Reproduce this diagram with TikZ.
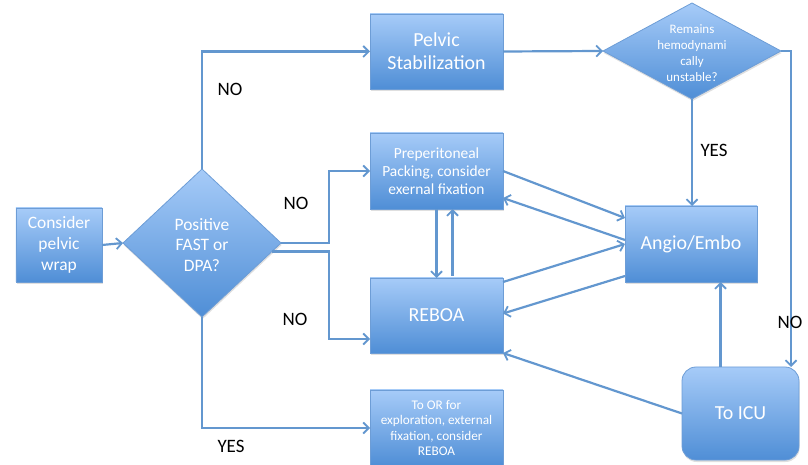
\documentclass[tikz,border=0pt]{standalone}
\usepackage{fontspec}
\setmainfont{Carlito}
\usetikzlibrary{shapes.geometric,arrows.meta,shadows}
\definecolor{topb}{HTML}{A6CBF8}
\definecolor{botb}{HTML}{4F8ED6}
\definecolor{edgeb}{HTML}{6D9DD6}
\definecolor{linkb}{HTML}{6397CF}
\begin{document}
\begin{tikzpicture}[x=1bp,y=-1bp,
  box/.style={draw=edgeb, line width=0.8bp, top color=topb, bottom color=botb,
    text=white, align=center, inner sep=0pt, outer sep=0pt,
    drop shadow={shadow xshift=0.6bp, shadow yshift=-2bp, opacity=0.25}},
  dia/.style={box, diamond},
  wtext/.style={text=white, align=center, inner sep=0pt},
  link/.style={draw=linkb, line width=2.2bp, line join=miter,
    -{Straight Barb[length=5.5bp,width=11bp,line width=1.8bp]}},
  lab/.style={font=\fontsize{19}{21}\selectfont, inner sep=0pt}]
\useasboundingbox (0,0) rectangle (808,465);

% nodes
\node[box, minimum width=86bp, minimum height=74bp,
  font=\fontsize{17.5}{21}\selectfont] (wrap) at (59,245) {Consider\\pelvic\\wrap};
\node[dia, minimum width=158bp, minimum height=148bp] (fast) at (202,243) {};
\node[wtext, font=\fontsize{17.5}{20.5}\selectfont] (fastt) at (202,245) {Positive\\FAST or\\DPA?};
\node[box, minimum width=133bp, minimum height=75bp,
  font=\fontsize{20}{23}\selectfont] (pelvic) at (436.5,51.5) {Pelvic\\Stabilization};
\node[dia, minimum width=178bp, minimum height=96bp] (rem) at (692,51) {};
\node[wtext, font=\fontsize{13}{16}\selectfont] (remt) at (692,53) {Remains\\hemodynami\\cally\\unstable?};
\node[box, minimum width=133bp, minimum height=76bp,
  font=\fontsize{15.5}{18}\selectfont] (prep) at (436.5,171) {Preperitoneal\\Packing, consider\\exernal fixation};
\node[box, minimum width=132bp, minimum height=76bp,
  font=\fontsize{20}{23}\selectfont] (angio) at (691,244) {Angio/Embo};
\node[box, minimum width=133bp, minimum height=75bp,
  font=\fontsize{20}{23}\selectfont] (reboa) at (436.5,315.5) {REBOA};
\node[box, minimum width=133bp, minimum height=76bp,
  font=\fontsize{13.3}{15.6}\selectfont] (toor) at (436.5,428) {To OR for\\exploration, external\\fixation, consider\\REBOA};
\node[box, rounded corners=14bp, minimum width=117bp, minimum height=93bp,
  font=\fontsize{20}{23}\selectfont] (icu) at (740.5,413.5) {To ICU};

% connectors
\draw[link] (wrap.east) -- (fast.west);
\draw[link] (fast.north) |- (pelvic.west);
\draw[link] (fast.east) -- ++(48,0) |- (prep.west);
\draw[link] (fast.-7) -- ++(57,0) |- ([yshift=14bp]reboa.south west);
\draw[link] (fast.south) |- (toor.west);
\draw[link] (pelvic.east) -- (rem.west);
\draw[link] (rem.south) -- (rem.south |- angio.north);
\draw[link] (rem.east) -| ([xshift=-8bp]icu.north east);
\draw[link] (prep.east) -- ([yshift=-12bp]angio.north west);
\draw[link] ([yshift=4bp]angio.west) -- ([yshift=11bp]prep.south east);
\draw[link] ([yshift=-4bp]reboa.north east) -- (angio.west);
\draw[link] ([yshift=6bp]angio.south west) -- ([yshift=2bp]reboa.east);
\draw[link] (prep.south) -- (reboa.north);
\draw[link] ([xshift=16bp,yshift=2bp]reboa.north) -- ([xshift=16bp]prep.south);
\draw[link] (icu.west) -- (reboa.south east);
\draw[link] ([xshift=-20bp]icu.north) -- ([xshift=-20bp]icu.north |- angio.south);

% labels
\node[lab] (no1) at (230,89) {NO};
\node[lab] (no2) at (296,203) {NO};
\node[lab] (no3) at (295,319) {NO};
\node[lab] (yes1) at (231,446) {YES};
\node[lab] (yes2) at (714,150) {YES};
\node[lab] (no4) at (790,322) {NO};
\end{tikzpicture}
\end{document}
